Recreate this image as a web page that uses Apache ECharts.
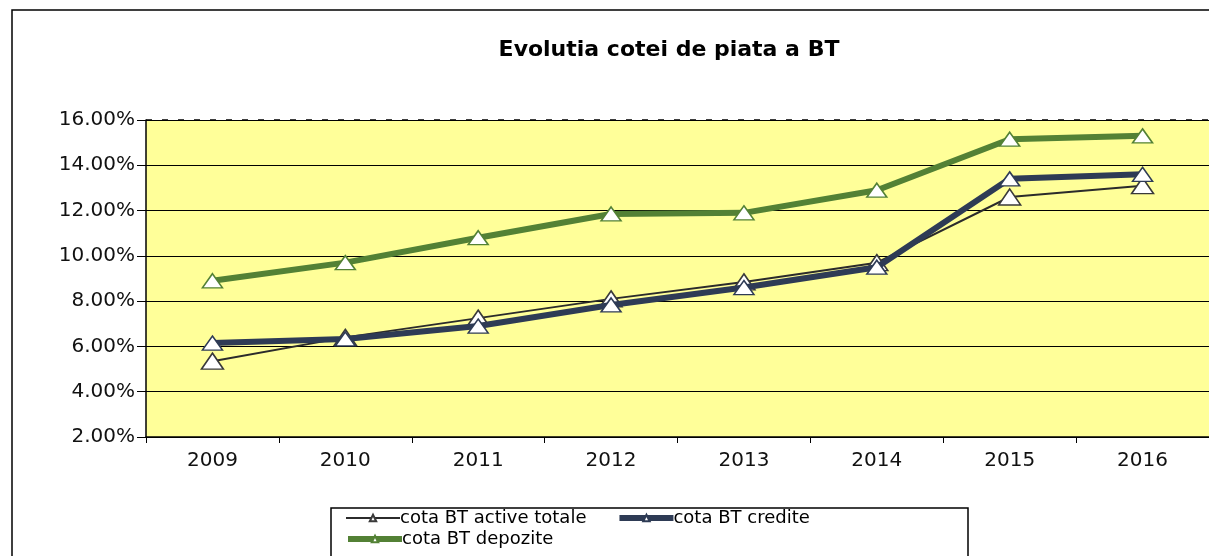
<!DOCTYPE html>
<html>
<head>
<meta charset="utf-8">
<script src="https://cdn.jsdelivr.net/npm/echarts@6/dist/echarts.min.js"></script>
<style>
  html, body { margin: 0; padding: 0; background: #fff; }
  #chart { width: 1209px; height: 556px; }
</style>
</head>
<body>
<div id="chart"></div>
<script>
// date
var years = ["2009", "2010", "2011", "2012", "2013", "2014", "2015", "2016"];
var activeTotale = [5.35, 6.4, 7.25, 8.1, 8.85, 9.7, 12.6, 13.1];
var credite = [6.15, 6.33, 6.9, 7.83, 8.6, 9.5, 13.4, 13.6];
var depozite = [8.9, 9.7, 10.8, 11.85, 11.9, 12.9, 15.15, 15.3];

var myChart = echarts.init(document.getElementById("chart"));

var font = "'DejaVu Sans', Verdana, sans-serif";

var option = {
  backgroundColor: "#fff",
  animation: false,
  title: {
    text: "Evolutia cotei de piata a BT",
    left: 664,
    top: 34,
    textAlign: "center",
    textStyle: { fontFamily: font, fontSize: 22, fontWeight: "bold", color: "#000" }
  },
  graphic: [
    {
      type: "rect",
      shape: { x: 12, y: 10, width: 1210, height: 560 },
      style: { fill: null, stroke: "#000", lineWidth: 1.5 },
      silent: true
    },
    {
      type: "rect",
      shape: { x: 331, y: 508, width: 637, height: 52 },
      style: { fill: "#fff", stroke: "#000", lineWidth: 1.5 },
      silent: true,
      z: 0
    }
  ],
  legend: [
    {
      data: [
        { name: "cota BT active totale", lineStyle: { width: 2 } },
        { name: "cota BT credite", lineStyle: { width: 6 } }
      ],
      left: 345,
      top: 509,
      itemWidth: 54,
      itemHeight: 8,
      itemGap: 30,
      textStyle: { fontFamily: font, fontSize: 18, color: "#000", padding: [0, 0, 0, -5] },
      padding: 0
    },
    {
      data: [{ name: "cota BT depozite", lineStyle: { width: 6 } }],
      left: 345,
      top: 530,
      itemWidth: 54,
      itemHeight: 8,
      textStyle: { fontFamily: font, fontSize: 18, color: "#000", padding: [0, 0, 0, -5] },
      padding: 0
    }
  ],
  grid: {
    left: 146,
    right: -1,
    top: 120,
    bottom: 119,
    show: true,
    backgroundColor: "#FFFF99",
    borderWidth: 0
  },
  xAxis: {
    type: "category",
    data: years,
    boundaryGap: true,
    axisLine: { lineStyle: { color: "#000", width: 1.5 } },
    axisTick: { show: true, length: 6, lineStyle: { color: "#000" } },
    axisLabel: { fontFamily: font, fontSize: 20, color: "#111", margin: 14 }
  },
  yAxis: {
    type: "value",
    min: 2,
    max: 16,
    interval: 2,
    axisLine: { show: true, lineStyle: { color: "#000", width: 1.5 } },
    axisTick: { show: true, inside: false, length: 9, lineStyle: { color: "#000" } },
    axisLabel: {
      fontFamily: font,
      fontSize: 20,
      color: "#111",
      margin: 11,
      formatter: function (v) { return v.toFixed(2) + "%"; }
    },
    splitLine: {
      show: true,
      lineStyle: { color: "#000", width: 1.2 }
    }
  },
  series: [
    {
      name: "cota BT active totale",
      type: "line",
      data: activeTotale,
      symbol: "triangle",
      symbolSize: [22, 16],
      lineStyle: { color: "#2b2b2b", width: 2 },
      itemStyle: { color: "#ffffff", borderColor: "#3a3a3a", borderWidth: 1.5 },
      z: 3
    },
    {
      name: "cota BT credite",
      type: "line",
      data: credite,
      symbol: "triangle",
      symbolSize: [20, 14],
      lineStyle: { color: "#2e3b55", width: 6 },
      itemStyle: { color: "#ffffff", borderColor: "#2e3b55", borderWidth: 1.5 },
      z: 4
    },
    {
      name: "cota BT depozite",
      type: "line",
      data: depozite,
      symbol: "triangle",
      symbolSize: [20, 14],
      lineStyle: { color: "#538135", width: 6 },
      itemStyle: { color: "#ffffff", borderColor: "#538135", borderWidth: 1.5 },
      z: 4
    },
    {
      // linia punctata de sus (16%)
      type: "line",
      data: [],
      silent: true,
      markLine: {
        symbol: "none",
        silent: true,
        label: { show: false },
        lineStyle: { color: "#000", type: [6, 10], width: 1.5 },
        data: [{ yAxis: 16 }]
      }
    }
  ]
};

myChart.setOption(option);
</script>
</body>
</html>
